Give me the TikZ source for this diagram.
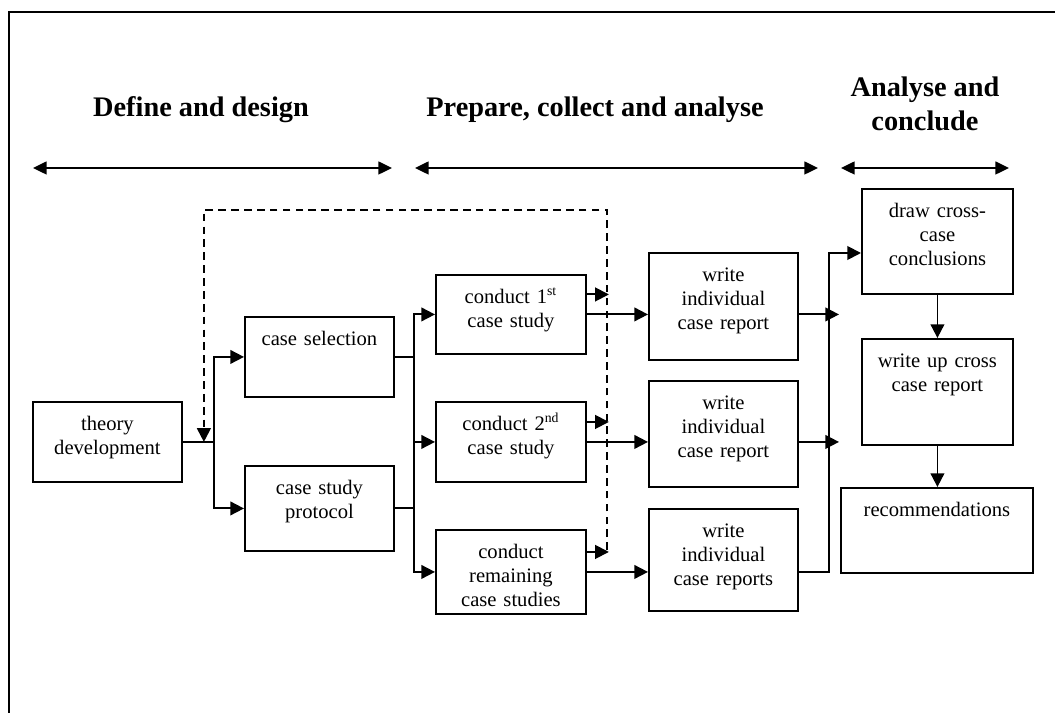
\documentclass[tikz,border=0pt]{standalone}
\usepackage{fontspec}
\setmainfont{Liberation Serif}
\usetikzlibrary{arrows.meta, calc}

\begin{document}
\begin{tikzpicture}[
          x=0.5825pt, y=-0.5825pt,
          stage/.style 2 args={
              draw,
              line width=1.1pt,
              anchor=north west,
              inner xsep=2pt,
              inner ysep=0pt,
              minimum width=#1*0.5825pt,
              text width=#1*0.5825pt-4pt,
              text height=16.6pt,
              text depth=#2*0.5825pt-16.6pt,
              align=center,
              font=\fontsize{12}{14}\selectfont
            },
          phase/.style={font=\fontsize{16.5}{19.5}\selectfont\bfseries, align=center},
          span/.style={{Triangle[length=8pt,width=7.5pt]}-{Triangle[length=8pt,width=7.5pt]}, line width=1.2pt},
          link/.style={line width=1.1pt},
          arr/.style={-{Triangle[length=8pt,width=8pt]}, line width=1.1pt},
          fb/.style={-{Triangle[length=8pt,width=8pt]}, line width=1.1pt, dash pattern=on 4.5pt off 3pt}
        ]
        \useasboundingbox (0,0) rectangle (1055,713);
        \draw[link] (9,713) -- (9,12) -- (1055,12);

        % phases
        \node[phase] (define) at (201,110) {Define and design};
        \node[phase] (prepare) at (595,110) {Prepare, collect and analyse};
        \node[phase] (conclude) at (925,104) {Analyse and\\conclude};
        \coordinate (d1) at (33,168);
        \coordinate (d2) at (392,168);
        \coordinate (p1) at (415,168);
        \coordinate (p2) at (818,168);
        \coordinate (c1) at (841,168);
        \coordinate (c2) at (1009,168);
        \draw[span] (d1) -- (d2);
        \draw[span] (p1) -- (p2);
        \draw[span] (c1) -- (c2);

        % boxes
        \node[stage={149}{80}] (theory) at (32,401) {theory\\development};
        \node[stage={149}{80}] (select) at (244,316) {case selection};
        \node[stage={149}{85}] (protocol) at (244,465) {case study\\protocol};
        \node[stage={150}{79}] (conduct1) at (435,274) {conduct 1\textsuperscript{st}\\case study};
        \node[stage={150}{80}] (conduct2) at (435,401) {conduct 2\textsuperscript{nd}\\case study};
        \node[stage={150}{84}] (conduct3) at (435,529) {conduct\\remaining\\case studies};
        \node[stage={149}{107}] (write1) at (648,252) {write\\individual\\case report};
        \node[stage={149}{106}] (write2) at (648,380) {write\\individual\\case report};
        \node[stage={149}{102}] (write3) at (648,508) {write\\individual\\case reports};
        \node[stage={151}{105}] (drawx) at (861,188) {draw cross-\\case\\conclusions};
        \node[stage={151}{106}] (writeup) at (861,338) {write up cross\\case report};
        \node[stage={192}{85}] (recom) at (840,487) {recommendations};

        % connectors
        \coordinate (split1) at ($(theory.east)+(31,0)$);
        \coordinate (split2) at ($(conduct2.west)+(-21,0)$);
        \coordinate (bus3) at (829,253);
        \coordinate (hit) at (839,0);
        \coordinate (fbstart) at (607,550);
        \coordinate (fbtop) at (607,210);
        \coordinate (fbtip) at ($(theory.east)+(21,0)$);
        \draw[link] (theory.east) -- (split1);
        \draw[arr] (split1) |- (select.west);
        \draw[arr] (split1) |- (protocol.west);
        \draw[link] (select.east) -- (select.east -| split2);
        \draw[link] (protocol.east) -- (protocol.east -| split2);
        \foreach \i in {1,2,3} {
          \draw[arr] (split2) |- (conduct\i.west);
          \draw[arr] (conduct\i.east) -- (conduct\i.east -| write\i.west);
          \draw[arr] ($(conduct\i.east)+(0,-20)$) -- ++(22,0);
        }
        \foreach \i in {1,2}
          \draw[arr] (write\i.east |- conduct\i.east) -- (hit |- conduct\i.east);
        \draw[arr] (write3.east |- conduct3.east) -| (bus3) -- (bus3 -| drawx.west);
        \draw[arr] (drawx.south) -- (writeup.north);
        \draw[arr] (writeup.south) -- (writeup.south |- recom.north);
        \draw[fb] (fbstart) -- (fbtop) -| (fbtip);
      \end{tikzpicture}
\end{document}
